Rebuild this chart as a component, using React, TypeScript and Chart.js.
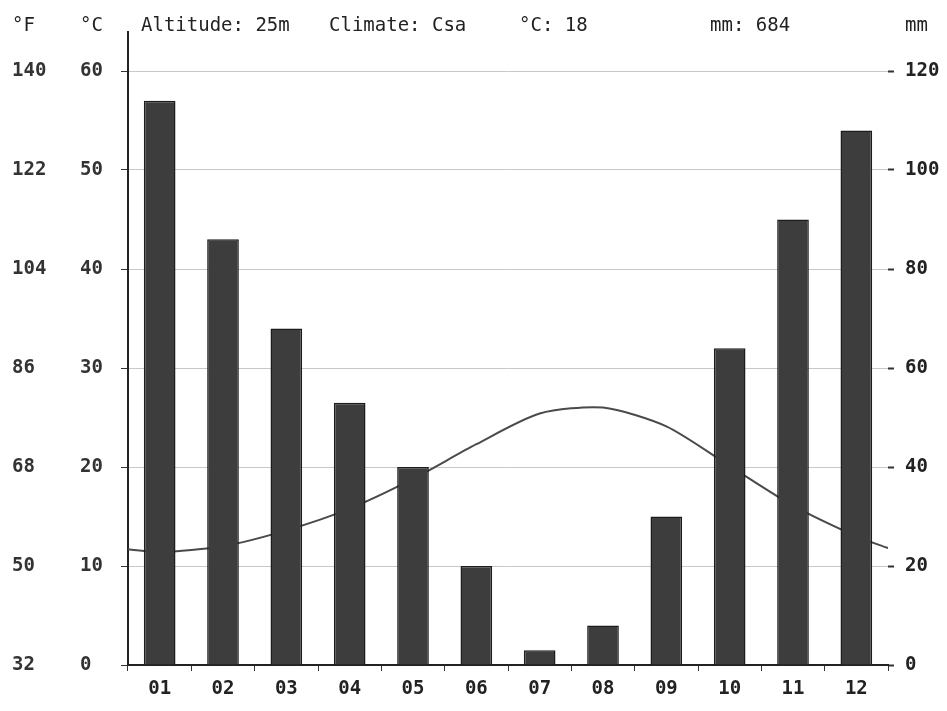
import React, { useEffect, useRef } from "react";
import { Chart, registerables } from "chart.js";

Chart.register(...registerables);

// ---- data ----
const months = ["01", "02", "03", "04", "05", "06", "07", "08", "09", "10", "11", "12"];
const precipitationMm = [114, 86, 68, 53, 40, 20, 3, 8, 30, 64, 90, 108];
const temperatureC = [11.4, 12.0, 13.6, 15.8, 18.8, 22.3, 25.4, 26.0, 24.1, 20.1, 16.1, 13.0];
const temperatureEdgesC = [11.7, 11.8]; // line value at the left and right edge of the plot
const headerTexts = ["°F", "°C", "Altitude: 25m", "Climate: Csa", "°C: 18", "mm: 684", "mm"];

// ---- layout (positions only) ----
const headerX = [12, 80, 141, 329, 519, 710, 905];
const HEADER_Y = 26;
const FONT = '"DejaVu Sans Mono", "Liberation Mono", monospace';

const headerPlugin = {
  id: "headerPlugin",
  afterDraw(chart: any) {
    const { ctx, chartArea } = chart;
    ctx.save();
    ctx.font = `19px ${FONT}`;
    ctx.fillStyle = "#222";
    ctx.textBaseline = "middle";
    ctx.textAlign = "left";
    headerTexts.forEach((t, i) => ctx.fillText(t, headerX[i], HEADER_Y));
    ctx.strokeStyle = "#222";
    ctx.lineWidth = 2;
    ctx.beginPath();
    ctx.moveTo(chartArea.left, 31);
    ctx.lineTo(chartArea.left, chartArea.top);
    ctx.stroke();
    ctx.restore();
  },
};

export default function App() {
  const ref = useRef<HTMLCanvasElement | null>(null);

  useEffect(() => {
    document.body.style.margin = "0";
    document.body.style.background = "#fff";
    const linePoints = [
      { x: 0, y: temperatureEdgesC[0] },
      ...temperatureC.map((t, i) => ({ x: i + 0.5, y: t })),
      { x: months.length, y: temperatureEdgesC[1] },
    ];
    const barPoints = precipitationMm.map((v, i) => ({ x: i + 0.5, y: v }));
    const labelFont = { family: FONT, size: 19, weight: "bold" as const };
    const chart = new Chart(ref.current!, {
      type: "bar",
      data: {
        datasets: [
          {
            type: "line",
            data: linePoints as any,
            xAxisID: "x",
            yAxisID: "y",
            borderColor: "#4a4a4a",
            borderWidth: 2,
            pointRadius: 0,
            tension: 0.25,
            order: 2,
          } as any,
          {
            type: "bar",
            data: barPoints as any,
            xAxisID: "x",
            yAxisID: "mm",
            backgroundColor: "#3d3d3d",
            borderColor: "#1c1c1c",
            borderWidth: 1.5,
            categoryPercentage: 1,
            barPercentage: 0.5,
            order: 1,
          } as any,
        ],
      },
      options: {
        animation: false,
        responsive: true,
        maintainAspectRatio: false,
        layout: { padding: { top: 71, left: 12, right: 0, bottom: 0 } },
        plugins: { legend: { display: false }, tooltip: { enabled: false }, title: { display: false } },
        scales: {
          x: {
            type: "linear",
            position: "bottom",
            offset: false,
            min: 0,
            max: months.length,
            afterFit: (s: any) => { s.height = 46; },
            afterBuildTicks: (s: any) => {
              s.ticks = months.map((_, i) => ({ value: i + 0.5 }));
            },
            grid: { offset: true, drawOnChartArea: false, tickLength: 6, tickColor: "#333", tickWidth: 1 },
            border: { display: true, color: "#222", width: 2 },
            ticks: {
              font: labelFont,
              color: "#222",
              padding: 7,
              maxRotation: 0,
              autoSkip: false,
              callback: (_v: any, i: number) => months[i],
            },
          },
          f: {
            type: "linear",
            position: "left",
            weight: 1,
            min: 32,
            max: 140,
            afterFit: (s: any) => { s.width = 68; },
            grid: { display: false },
            border: { display: false },
            ticks: { stepSize: 18, font: labelFont, color: "#333", crossAlign: "far", padding: 0 },
          },
          y: {
            type: "linear",
            position: "left",
            weight: 0,
            min: 0,
            max: 60,
            afterFit: (s: any) => { s.width = 48; },
            grid: {
              color: (c: any) => (c.tick && c.tick.value % 10 === 0 && c.tick.value !== 0 ? "#c8c8c8" : "rgba(0,0,0,0)"),
              lineWidth: 1,
              tickLength: 7,
              tickColor: "#333",
              tickWidth: 1,
            },
            border: { display: true, color: "#222", width: 2 },
            ticks: {
              stepSize: 5,
              font: labelFont,
              color: "#333",
              crossAlign: "far",
              callback: (v: any) => (Number(v) % 10 === 0 ? String(v) : null),
            },
          },
          mm: {
            type: "linear",
            position: "right",
            min: 0,
            max: 120,
            afterFit: (s: any) => { s.width = 59; },
            grid: { drawOnChartArea: false, tickLength: 6, tickColor: "#333", tickWidth: 2 },
            border: { display: false },
            ticks: {
              stepSize: 10,
              font: labelFont,
              color: "#222",
              padding: 11,
              callback: (v: any) => (Number(v) % 20 === 0 ? String(v) : null),
            },
          },
        },
      } as any,
      plugins: [headerPlugin],
    });
    return () => chart.destroy();
  }, []);

  return (
    <div style={{ position: "relative", width: 947, height: 711, background: "#fff" }}>
      <canvas ref={ref} />
    </div>
  );
}
